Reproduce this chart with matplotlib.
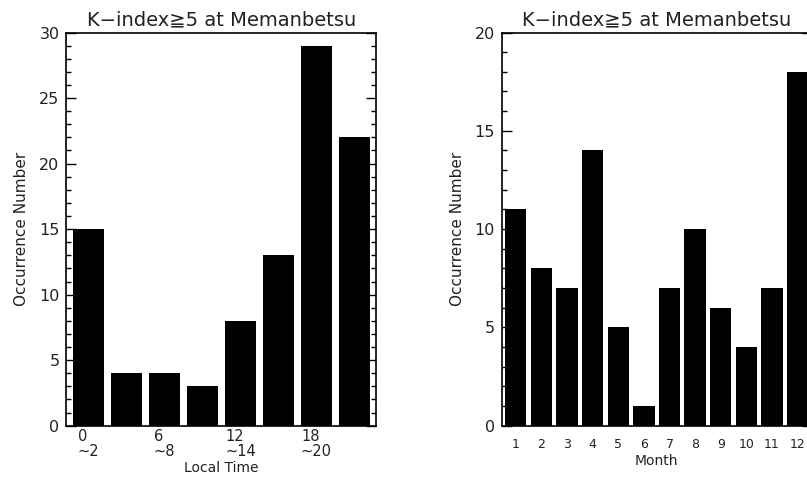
import matplotlib.pyplot as plt
from matplotlib.ticker import MultipleLocator

plt.rcParams['font.family'] = ['DejaVu Sans', 'Noto Sans CJK JP']

# occurrences of K-index >= 5 at Memanbetsu
lt_bins = [0, 1, 2, 3, 4, 5, 6, 7]           # 3-hour local time bins
lt_counts = [15, 4, 4, 3, 8, 13, 29, 22]
lt_ticks = [0, 2, 4, 6]
lt_labels = ['0\n~2', '6\n~8', '12\n~14', '18\n~20']

months = [1, 2, 3, 4, 5, 6, 7, 8, 9, 10, 11, 12]
month_counts = [11, 8, 7, 14, 5, 1, 7, 10, 6, 4, 7, 18]

title = 'K\u2212index\u22675 at Memanbetsu'
txt = '#222222'

fig = plt.figure(figsize=(8.07, 4.78), dpi=100)
ax1 = fig.add_axes([0.0824, 0.1094, 0.3841, 0.8226])
ax2 = fig.add_axes([0.6217, 0.1094, 0.3841, 0.8226])

ax1.bar(lt_bins, lt_counts, width=0.83, color='black')
ax1.set_xlim(-0.58, 7.58)
ax1.set_ylim(0, 30)
ax1.set_xticks(lt_ticks)
ax1.set_xticklabels(lt_labels, multialignment='left', linespacing=1.0,
                    fontsize=10.5)
ax1.tick_params(axis='x', pad=2.5)
ax1.set_xlabel('Local Time', fontsize=10, color=txt, labelpad=1)

ax2.bar(months, month_counts, width=0.83, color='black')
ax2.set_xlim(0.45, 12.55)
ax2.set_ylim(0, 20)
ax2.set_xticks(months)
ax2.tick_params(axis='x', labelsize=9, pad=9)
ax2.set_xlabel('Month', fontsize=10, color=txt, labelpad=2)

for ax in (ax1, ax2):
    ax.set_title(title, fontsize=14, color=txt, pad=5)
    ax.set_ylabel('Occurrence Number', fontsize=11, color=txt, labelpad=7)
    ax.yaxis.set_major_locator(MultipleLocator(5))
    ax.yaxis.set_minor_locator(MultipleLocator(1))
    ax.tick_params(axis='y', which='both', direction='in', right=True,
                   labelsize=11.5, labelcolor=txt, pad=5)
    ax.tick_params(axis='y', which='major', length=7, width=1)
    ax.tick_params(axis='y', which='minor', length=3.5, width=1)
    ax.tick_params(axis='x', length=0, labelcolor=txt)
    for s in ax.spines.values():
        s.set_linewidth(1.2)

fig.savefig('out.png', dpi=100)
